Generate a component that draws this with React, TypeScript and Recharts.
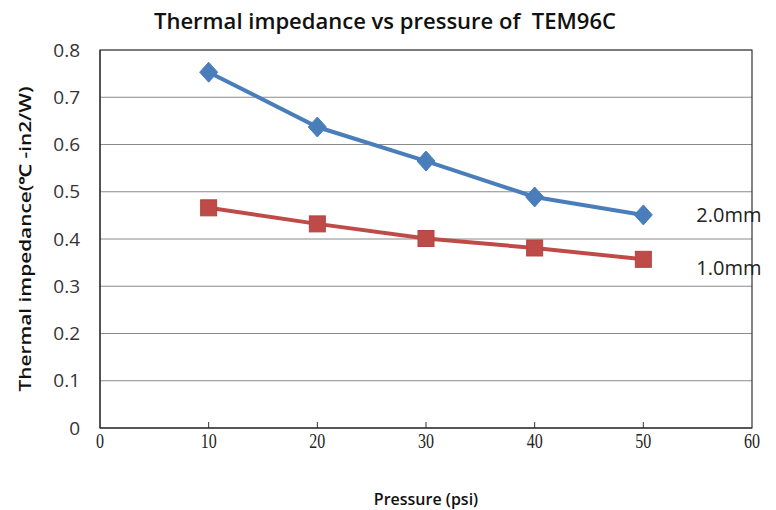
import React from 'react';
import {
  LineChart,
  Line,
  XAxis,
  YAxis,
  CartesianGrid,
  ReferenceArea,
  Label,
} from 'recharts';

const pressures = [10, 20, 30, 40, 50];
const thick20 = [0.753, 0.637, 0.565, 0.489, 0.451];
const thick10 = [0.466, 0.432, 0.401, 0.381, 0.357];
const xTicks = [0, 10, 20, 30, 40, 50, 60];
const yTicks = [0, 0.1, 0.2, 0.3, 0.4, 0.5, 0.6, 0.7, 0.8];

const data = pressures.map((p, i) => ({ p, a: thick20[i], b: thick10[i] }));

const BLUE = '#4a7ebb';
const RED = '#be4b48';

const Diamond = (props: any) => {
  const { cx, cy } = props;
  if (cx == null || cy == null) return null;
  return (
    <path
      d={`M${cx},${cy - 10} L${cx + 9},${cy} L${cx},${cy + 10} L${cx - 9},${cy} Z`}
      fill={BLUE}
      stroke={BLUE}
    />
  );
};

const Square = (props: any) => {
  const { cx, cy } = props;
  if (cx == null || cy == null) return null;
  return <rect x={cx - 8} y={cy - 8} width={16} height={16} fill={RED} stroke="#b04542" />;
};

const endLabel = (text: string, dy: number) => (props: any) => {
  const { x, y, index } = props;
  if (index !== pressures.length - 1) return null;
  return (
    <text x={x + 53} y={y + dy} fontSize={20} fill="#222" fontFamily="'Open Sans', sans-serif" dominantBaseline="central">
      {text}
    </text>
  );
};

const XTick = (props: any) => {
  const { x, y, payload } = props;
  return (
    <g>
      {payload.value > 0 && payload.value < 60 && (
        <line x1={x} y1={y} x2={x} y2={y - 6} stroke="#333" />
      )}
      <text
        x={x}
        y={y + 20}
        textAnchor="middle"
        fontSize={20}
        fill="#222"
        fontFamily="'Liberation Serif', serif"
        transform={`translate(${x},0) scale(0.8,1) translate(${-x},0)`}
      >
        {payload.value}
      </text>
    </g>
  );
};

export default function App() {
  return (
    <div style={{ position: 'absolute', left: 0, top: 0, background: '#fff' }}>
      <LineChart
        width={776}
        height={510}
        data={data}
        margin={{ top: 50, right: 24, bottom: 0, left: 0 }}
      >
        <text
          x={385}
          y={21}
          textAnchor="middle"
          dominantBaseline="central"
          fontSize={21}
          fontWeight={600}
          fill="#111"
          fontFamily="'Open Sans', sans-serif"
          textLength={462}
          lengthAdjust="spacingAndGlyphs"
        >
          {'Thermal impedance vs pressure of\u00a0\u00a0TEM96C'}
        </text>
        <text
          x={0}
          y={0}
          transform="translate(25,239) rotate(-90)"
          textAnchor="middle"
          dominantBaseline="central"
          fontSize={16}
          fontWeight={600}
          fill="#111"
          fontFamily="'Open Sans', sans-serif"
          textLength={305}
          lengthAdjust="spacingAndGlyphs"
        >
          Thermal impedance(℃ -in2/W)
        </text>
        <CartesianGrid vertical={false} stroke="#8a8a8a" strokeWidth={1.2} />
        <ReferenceArea x1={0} x2={60} y1={0} y2={0.8} fill="none" stroke="#333" strokeWidth={1.2} ifOverflow="visible" />
        <XAxis
          dataKey="p"
          type="number"
          domain={[0, 60]}
          ticks={xTicks}
          height={82}
          tickSize={0}
          tickMargin={0}
          tickLine={false}
          axisLine={{ stroke: '#333', strokeWidth: 1.2 }}
          tick={<XTick />}
          interval={0}
        >
          <Label
            value="Pressure (psi)"
            position="insideBottom"
            offset={5}
            style={{ fontSize: 16, fontWeight: 600, fill: '#111', fontFamily: "'Open Sans', sans-serif" }}
          />
        </XAxis>
        <YAxis
          type="number"
          domain={[0, 0.8]}
          ticks={yTicks}
          width={100}
          tickSize={0}
          tickMargin={20}
          tickLine={false}
          axisLine={{ stroke: '#333', strokeWidth: 1.2 }}
          tickFormatter={(v: number) => (v === 0 ? '0' : String(Number(v.toFixed(1))))}
          tick={{ fontSize: 19, fill: '#333', fontFamily: "'Open Sans', sans-serif" }}
          interval={0}
        />
        <Line
          dataKey="a"
          stroke={BLUE}
          strokeWidth={4}
          dot={<Diamond />}
          activeDot={false}
          isAnimationActive={false}
          label={endLabel('2.0mm', 0)}
        />
        <Line
          dataKey="b"
          stroke={RED}
          strokeWidth={4}
          dot={<Square />}
          activeDot={false}
          isAnimationActive={false}
          label={endLabel('1.0mm', 8)}
        />
      </LineChart>
    </div>
  );
}
